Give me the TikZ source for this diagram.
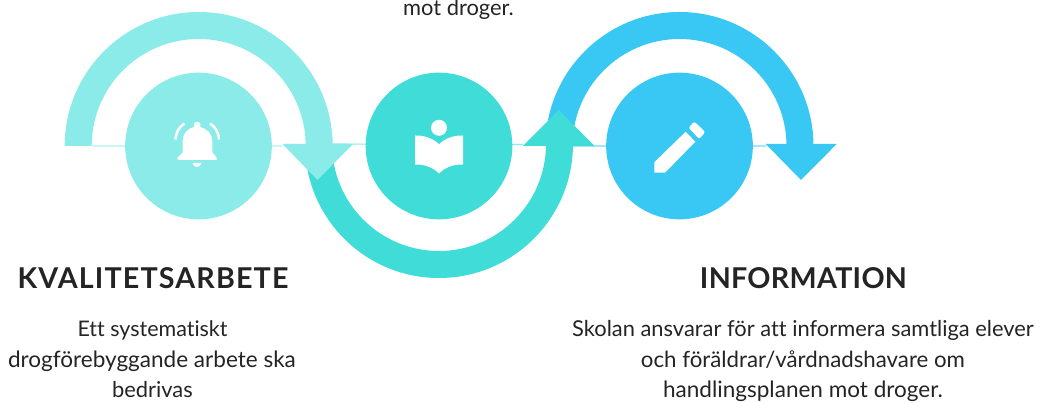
\documentclass[tikz,border=0pt]{standalone}
\usepackage{fontspec}
\setmainfont{Lato}[Ligatures=CommonOff]
\newfontfamily\headfont[LetterSpace=4,Ligatures=CommonOff]{Lato}
\newfontfamily\headfontb[LetterSpace=1,Ligatures=CommonOff]{Lato}
\definecolor{tealL}{HTML}{8AEBE8}
\definecolor{tealD}{HTML}{3FDCD8}
\definecolor{skyB}{HTML}{38C8F3}
\definecolor{inkT}{HTML}{242424}
\tikzset{
  disc/.style={circle,minimum size=110pt,inner sep=0pt,fill=#1},
  hair/.style={draw=#1,line width=0.8pt},
  icon/.style={fill=white,draw=none},
  bodytext/.style={anchor=base,text=inkT,inner sep=0pt,font=\fontsize{#1}{20}\selectfont},
  bodytext/.default=16.4,
  headtext/.style={anchor=base,text=inkT,inner sep=0pt,font=\fontsize{21.5}{26}\headfont\bfseries},
  headtextb/.style={anchor=base,text=inkT,inner sep=0pt,font=\fontsize{21.5}{26}\headfontb\bfseries},
}
\begin{document}
\begin{tikzpicture}[x=0.75pt,y=0.75pt]
\useasboundingbox (0,0) rectangle (1040,403);
% hairlines
\coordinate (h1a) at (92,257);
\coordinate (h1b) at (282,257);
\coordinate (h2a) at (333,259);
\coordinate (h2b) at (523,258.5);
\coordinate (h3a) at (573,257);
\coordinate (h3b) at (766,257);
\draw[hair=tealL!45] (h1a) -- (h1b);
\draw[hair=tealL] (h2a) -- (h2b);
\draw[hair=skyB!45] (h3a) -- (h3b);
% third arc
\fill[skyB] (545.5,257) arc[start angle=180,end angle=0,radius=134] -- (786.5,257) arc[start angle=0,end angle=180,radius=107] -- cycle;
\fill[skyB] (765.7,259) -- (836.7,259) -- (801,223) -- cycle;
% second arc
\fill[tealD] (305,259) arc[start angle=180,end angle=360,radius=134] -- (546,259) arc[start angle=360,end angle=180,radius=107] -- cycle;
\fill[tealD] (523,257) -- (594.5,257) -- (558.7,293) -- cycle;
% first arc
\fill[tealL] (64.7,257) arc[start angle=180,end angle=0,radius=134] -- (305.7,257) arc[start angle=0,end angle=180,radius=107] -- cycle;
\fill[tealL] (282.5,259) -- (353,259) -- (317.5,223) -- cycle;
% discs
\node[disc=tealL] (c1) at (198.5,257) {};
\node[disc=tealD] (c2) at (439,257) {};
\node[disc=skyB] (c3) at (679.5,257) {};
% icons, in top-down pixel coordinates
\begin{scope}[shift={(0,403)},yscale=-1]
  % bell
  \fill[icon] (177.7,160) -- (216.7,160) -- (216.7,157.5) -- (212.3,152.5) -- (212.3,141)
    .. controls (212.3,134) and (207,128.5) .. (200.3,127)
    .. controls (201,122.5) and (199,121.7) .. (197.2,121.7)
    .. controls (195.4,121.7) and (193.4,122.5) .. (194.1,127)
    .. controls (187.5,128.5) and (182.7,134) .. (182.7,141)
    -- (182.7,152.5) -- (177.7,157.5) -- cycle;
  \fill[icon] (192.5,163) -- (201.5,163) .. controls (201,165.5) and (199,167) .. (197,167) .. controls (195,167) and (193,165.5) .. (192.5,163) -- cycle;
  \draw[white,line width=1.9pt] (175.5,139.5) .. controls (176,132) and (179,127) .. (184.5,123.5);
  \draw[white,line width=1.9pt] (219,139.5) .. controls (218.5,132) and (215.5,127) .. (210,123.5);
  % book
  \fill[icon] (439,127.8) circle[radius=8];
  \fill[icon] (415,135.5) .. controls (426,135) and (435,140) .. (439,144.3)
    .. controls (443,140) and (452,135) .. (463,135.5) -- (463,164.5)
    .. controls (452,164) and (443,169) .. (439,173.5)
    .. controls (435,169) and (426,164) .. (415,164.5) -- cycle;
  % pencil
  \fill[icon] (654.3,172.7) -- (654.3,162.3) -- (685.7,131.7) -- (695.3,141.7) -- (665,172.7) -- cycle;
  \fill[icon,rounded corners=1.6pt] (688.5,127.8) -- (694.3,121.5) -- (705.3,132) -- (699.3,139) -- cycle;
\end{scope}
% texts
\node[bodytext] (t0) at (458.5,387) {mot droger.};
\node[headtext] (h1) at (153,114) {KVALITETSARBETE};
\node[headtextb] (h2) at (803.5,114) {INFORMATION};
\node[bodytext=16.1] (a1) at (152.5,66) {Ett systematiskt};
\node[bodytext=16.9] (a2) at (152,35.3) {drogförebyggande arbete ska};
\node[bodytext] (a3) at (152.5,5) {bedrivas};
\node[bodytext] (b1) at (803,66) {Skolan ansvarar för att informera samtliga elever};
\node[bodytext=16.7] (b2) at (803,35.3) {och föräldrar/vårdnadshavare om};
\node[bodytext=16.9] (b3) at (803,5.5) {handlingsplanen mot droger.};
\end{tikzpicture}
\end{document}
